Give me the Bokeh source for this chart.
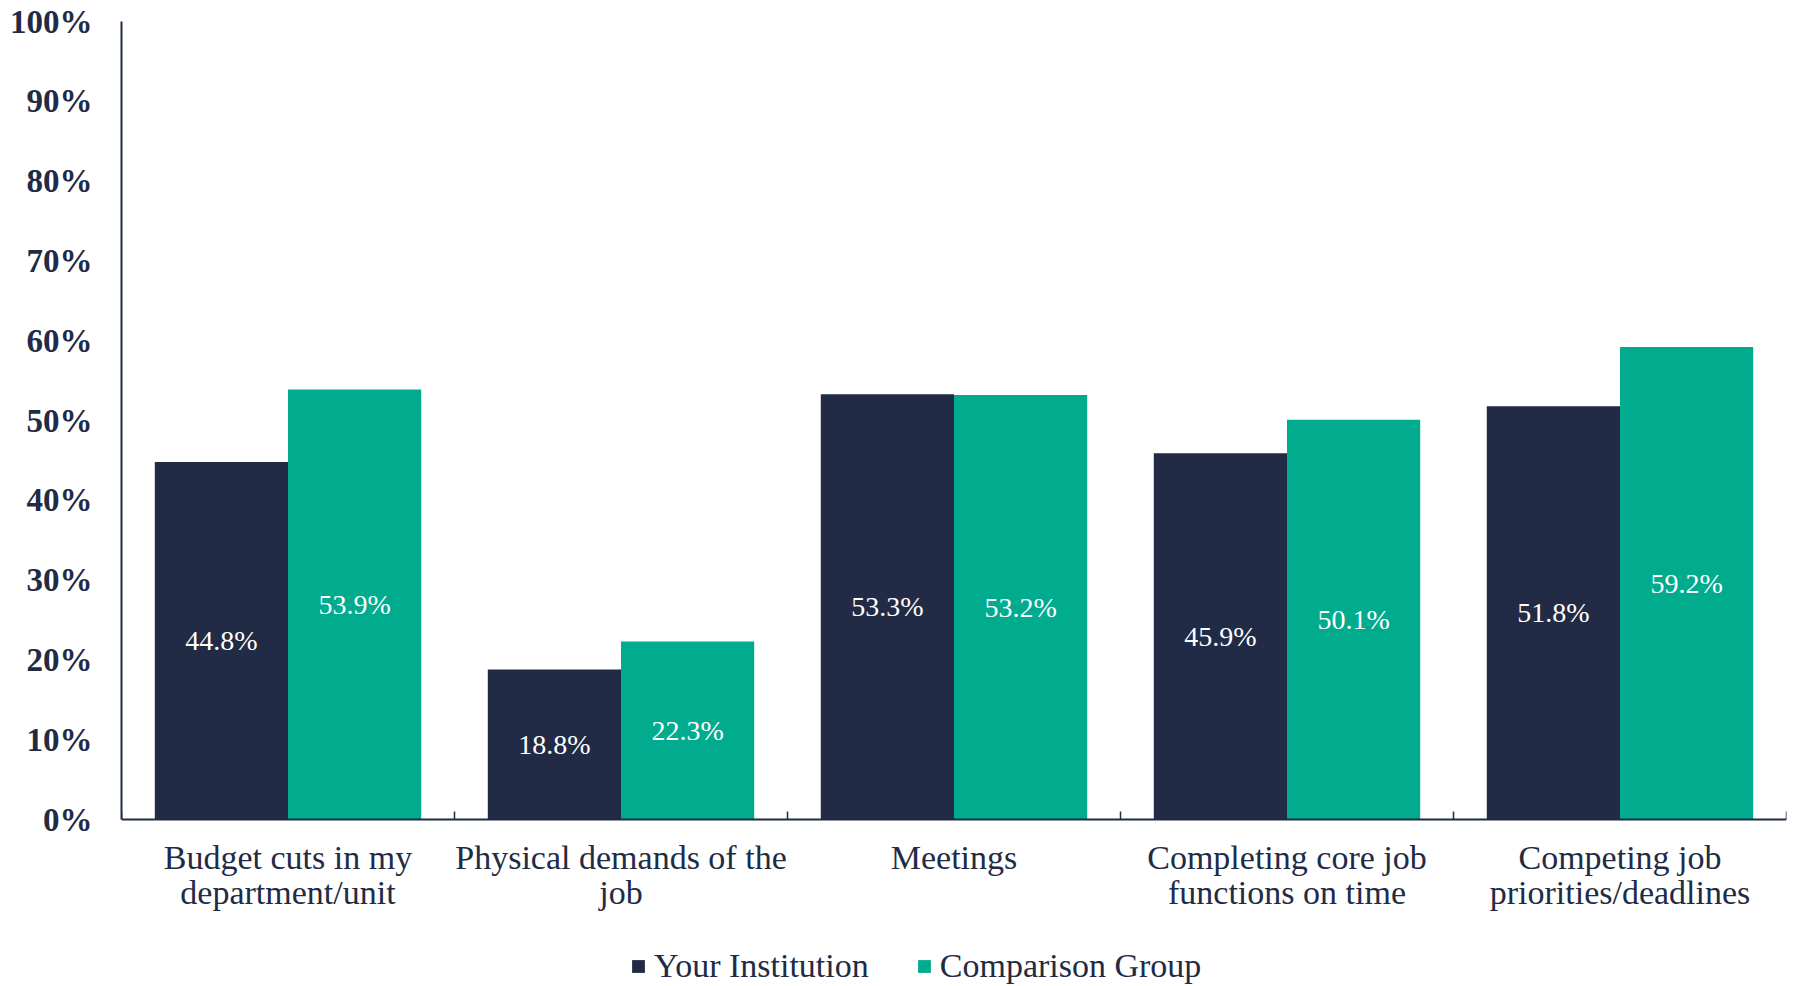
import numpy as np
from bokeh.plotting import figure
from bokeh.models import (ColumnDataSource, FixedTicker, Range1d, Legend, LegendItem,
                          LinearAxis, Span)
from bokeh.transform import dodge
from bokeh.core.properties import value
from bokeh.embed import file_html
from bokeh.resources import INLINE

categories = [
    "Budget cuts in my department/unit",
    "Physical demands of the job",
    "Meetings",
    "Completing core job functions on time",
    "Competing job priorities/deadlines",
]
category_labels = [
    "Budget cuts in my\ndepartment/unit",
    "Physical demands of the\njob",
    "Meetings",
    "Completing core job\nfunctions on time",
    "Competing job\npriorities/deadlines",
]
series_names = ["Your Institution", "Comparison Group"]
your_institution = [44.8, 18.8, 53.3, 45.9, 51.8]
comparison_group = [53.9, 22.3, 53.2, 50.1, 59.2]
y_ticks = [0, 10, 20, 30, 40, 50, 60, 70, 80, 90, 100]

NAVY = "#212B45"
TEAL = "#00AB8E"
FONT = "Liberation Serif"

n = len(categories)
centers = [i + 0.5 for i in range(n)]
bounds = [i for i in range(n + 1)]

# geometry: the value axis (0..100) occupies PLOT_H px; the frame continues below it
FRAME_H = 964
PLOT_H = 798
Y_MAX = 100
y_min = -Y_MAX * (FRAME_H - PLOT_H) / PLOT_H
tick_len = 8 * Y_MAX / PLOT_H

src = ColumnDataSource(dict(
    x=centers,
    y1=your_institution,
    y2=comparison_group,
    y1h=[v / 2 for v in your_institution],
    y2h=[v / 2 for v in comparison_group],
    t1=[f"{v:.1f}%" for v in your_institution],
    t2=[f"{v:.1f}%" for v in comparison_group],
    lab=category_labels,
    base=[0] * n,
))
tick_src = ColumnDataSource(dict(x=bounds, y0=[0] * len(bounds), y1=[tick_len] * len(bounds)))

p = figure(frame_width=1665, frame_height=FRAME_H, output_backend="svg", toolbar_location=None,
           x_range=Range1d(0, n), y_range=Range1d(y_min, Y_MAX),
           min_border_left=121, min_border_right=1, min_border_top=21, min_border_bottom=0,
           x_axis_location=None, y_axis_location=None)
p.outline_line_color = None
p.grid.grid_line_color = None
p.background_fill_color = "white"
p.border_fill_color = "white"

r1 = p.vbar(x=dodge("x", -0.2, range=p.x_range), top="y1", bottom=0, width=0.4, source=src,
            fill_color=NAVY, line_color=None)
r2 = p.vbar(x=dodge("x", 0.2, range=p.x_range), top="y2", bottom=0, width=0.4, source=src,
            fill_color=TEAL, line_color=None)

p.text(x=dodge("x", -0.2, range=p.x_range), y="y1h", text="t1", source=src,
       text_color="white", text_font=value(FONT), text_font_size="28px",
       text_align="center", text_baseline="middle")
p.text(x=dodge("x", 0.2, range=p.x_range), y="y2h", text="t2", source=src,
       text_color="white", text_font=value(FONT), text_font_size="28px",
       text_align="center", text_baseline="middle")

# y axis, limited to 0..100
yax = LinearAxis(ticker=FixedTicker(ticks=y_ticks), bounds=(0, Y_MAX),
                 major_label_overrides={t: f"{t}%" for t in y_ticks})
yax.axis_line_color = NAVY
yax.axis_line_width = 2
yax.major_tick_line_color = None
yax.minor_tick_line_color = None
yax.major_label_text_font = FONT
yax.major_label_text_font_size = "33px"
yax.major_label_text_font_style = "bold"
yax.major_label_text_color = NAVY
yax.major_label_standoff = 23
p.add_layout(yax, "left")

# category (x) axis at value 0
p.add_layout(Span(location=0, dimension="width", line_color=NAVY, line_width=2))
p.segment(x0="x", y0="y0", x1="x", y1="y1", source=tick_src, line_color=NAVY, line_width=1.5)
p.text(x="x", y="base", text="lab", source=src, y_offset=19,
       text_color=NAVY, text_font=value(FONT), text_font_size="34px",
       text_align="center", text_baseline="top", text_line_height=0.96)

legend = Legend(items=[LegendItem(label=series_names[0], renderers=[r1]),
                       LegendItem(label=series_names[1], renderers=[r2])],
                orientation="horizontal", location=(509, 0))
legend.label_text_font = FONT
legend.label_text_font_size = "34px"
legend.label_text_color = NAVY
legend.glyph_width = 16
legend.glyph_height = 16
legend.label_standoff = 8
legend.spacing = 47
legend.border_line_color = None
legend.background_fill_alpha = 0
legend.margin = 0
legend.padding = 0
p.add_layout(legend, "center")

open("out.html", "w").write(file_html(p, INLINE))
